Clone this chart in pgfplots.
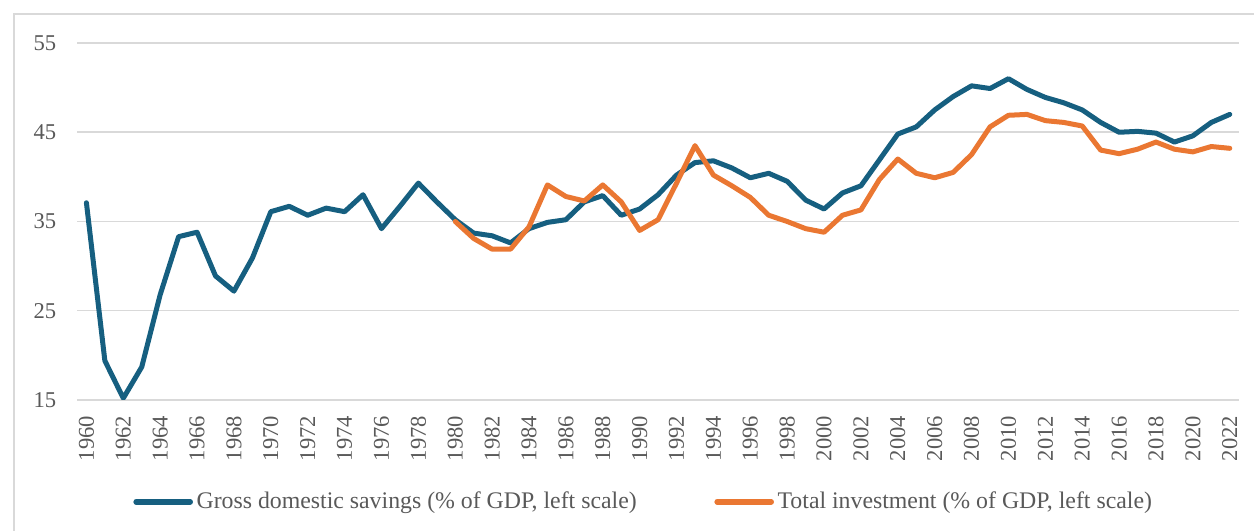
\documentclass[border=0pt]{standalone}
\usepackage{fontspec}
\setmainfont{Liberation Serif}
\usepackage{pgfplots}
\usepackage{pgfplotstable}
\pgfplotsset{compat=1.18}
\definecolor{savcol}{RGB}{22,95,128}
\definecolor{invcol}{RGB}{234,119,50}
\definecolor{txtgray}{RGB}{89,89,89}
\definecolor{gridgray}{RGB}{217,217,217}

% year, gross domestic savings, total investment (% of GDP)
\pgfplotstableread{
year sav inv
1960 37.1 nan
1961 19.4 nan
1962 15.2 nan
1963 18.7 nan
1964 26.8 nan
1965 33.3 nan
1966 33.8 nan
1967 28.9 nan
1968 27.2 nan
1969 30.9 nan
1970 36.1 nan
1971 36.7 nan
1972 35.7 nan
1973 36.5 nan
1974 36.1 nan
1975 38.0 nan
1976 34.2 nan
1977 36.7 nan
1978 39.3 nan
1979 37.2 nan
1980 35.2 35.0
1981 33.7 33.1
1982 33.4 31.9
1983 32.6 31.9
1984 34.2 34.4
1985 34.9 39.1
1986 35.2 37.8
1987 37.2 37.3
1988 37.9 39.1
1989 35.7 37.2
1990 36.4 34.0
1991 38.0 35.2
1992 40.2 39.3
1993 41.6 43.5
1994 41.8 40.2
1995 41.0 39.0
1996 39.9 37.7
1997 40.4 35.7
1998 39.5 35.0
1999 37.4 34.2
2000 36.4 33.8
2001 38.2 35.7
2002 39.0 36.3
2003 41.9 39.7
2004 44.8 42.0
2005 45.6 40.4
2006 47.5 39.9
2007 49.0 40.5
2008 50.2 42.5
2009 49.9 45.6
2010 51.0 46.9
2011 49.8 47.0
2012 48.9 46.3
2013 48.3 46.1
2014 47.5 45.7
2015 46.1 43.0
2016 45.0 42.6
2017 45.1 43.1
2018 44.9 43.9
2019 43.9 43.1
2020 44.6 42.8
2021 46.1 43.4
2022 47.0 43.2
}\datatable

\begin{document}
\begin{tikzpicture}
\useasboundingbox (-38.6bp,-65.5bp) rectangle (588.4bp,200bp);
\draw[gridgray, line width=0.7bp] (-31.6bp,-90bp) -- (-31.6bp,193bp) -- (640bp,193bp);
\begin{axis}[
 at={(0,0)}, anchor=south west,
 scale only axis,
 width=580.9bp,
 height=178.5bp,
 xmin=1959.5, xmax=2022.5,
 ymin=15, ymax=55,
 xtick={1960,1962,...,2022},
 ytick={15,25,...,55},
 axis line style={draw=none},
 major tick length=0pt,
 ymajorgrids,
 grid style={gridgray, line width=0.75bp},
 /pgf/number format/assume math mode=true,
 /pgf/number format/1000 sep={},
 tick label style={font=\fontsize{11.3bp}{13bp}\selectfont, text=txtgray},
 xticklabel style={rotate=90, anchor=east, xshift=-4.5bp},
 yticklabel style={anchor=east, xshift=-7bp},
 legend style={draw=none, fill=none, at={(0.4883,-0.285)}, anchor=center,
   font=\fontsize{11.9bp}{14bp}\selectfont, text=txtgray,
   legend columns=2, inner sep=0pt,
   nodes={inner sep=1.8bp},
   /tikz/every even column/.append style={column sep=37bp}},
 legend image code/.code={\draw[#1, line width=2.8bp] (0bp,0bp) -- (27bp,0bp);},
]
\addplot[savcol, line width=2.5bp, line join=round, line cap=round] table[x=year, y=sav] {\datatable};
\addplot[invcol, line width=2.5bp, line join=round, line cap=round] table[x=year, y=inv] {\datatable};
\legend{{Gross domestic savings (\% of GDP, left scale)}, {Total investment (\% of GDP, left scale)}}
\end{axis}
\end{tikzpicture}
\end{document}
